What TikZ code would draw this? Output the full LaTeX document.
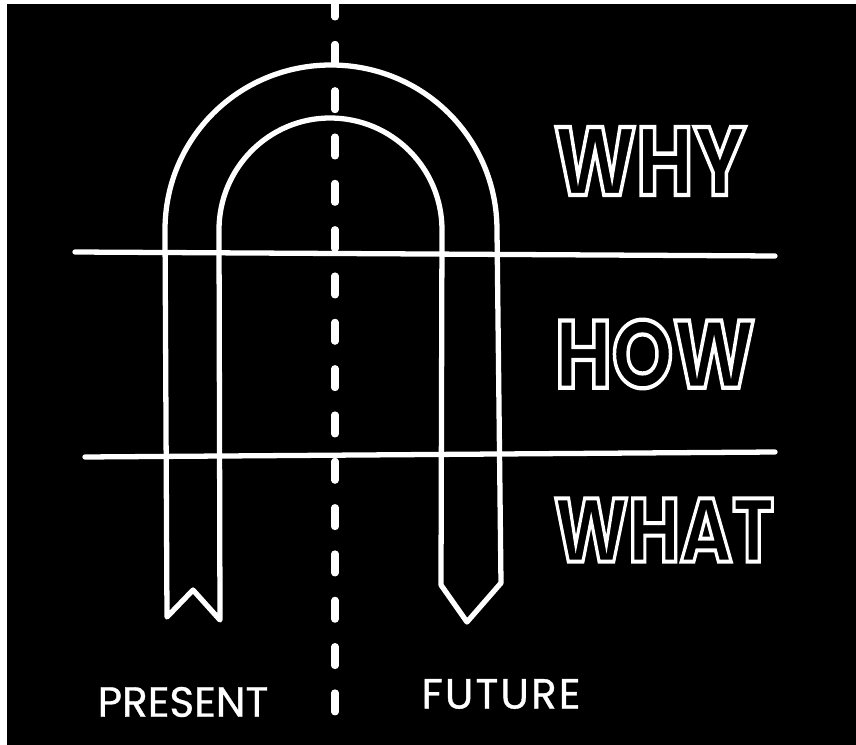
\documentclass[tikz,border=0pt]{standalone}
\usepackage{fontspec}
\setmainfont{Poppins}
\newfontfamily\tagfont[FakeBold=0.8]{Poppins}
% hollow letters: stroke the glyph outlines only
\newcommand\hollow[1]{\special{pdf:literal direct 1 Tr 1.2 w}#1\special{pdf:literal direct 0 Tr 1 w}}
\begin{document}
\begin{tikzpicture}[x=0.01cm, y=-0.01cm,
  chalk/.style={draw=white, line width=1.5pt, line cap=round, line join=round},
  word/.style={text=white, font=\fontsize{27}{27}\selectfont\bfseries, inner sep=0pt},
  tag/.style={text=white, font=\tagfont\fontsize{12}{12}\selectfont, inner sep=0pt}]
\useasboundingbox (0,0) rectangle (856,745);
\fill[white] (0,0) rectangle (856,745);
\fill[black] (7,4) rectangle (856,745);
% time axis
\draw[chalk, line width=2pt, dash pattern=on 0.19cm off 0.273cm] (335,-2) -- (335,712);
% the U
\draw[chalk] (165,230) -- (167,617) -- (193,590) -- (220,620) -- (219,230)
  .. controls (219,168) and (269,118) .. (330,118)
  .. controls (392,118) and (442,168) .. (442,230)
  -- (441,585) -- (467,622) -- (501,583) -- (497,230)
  .. controls (497,138) and (423,65) .. (331,65)
  .. controls (239,65) and (165,138) .. cycle;
% levels
\draw[chalk] (75,252) -- (775,256);
\draw[chalk] (85,457) -- (775,452);
\node[word] (why) at (650,161) {\resizebox{1.92cm}{0.68cm}{\hollow{WHY}}};
\node[word] (how) at (655,354) {\resizebox{2.0cm}{0.68cm}{\hollow{HOW}}};
\node[word] (what) at (664,530) {\resizebox{2.2cm}{0.63cm}{\hollow{WHAT}}};
\node[tag] (present) at (183,702) {PRESENT};
\node[tag] (future) at (501,694) {\addfontfeatures{LetterSpace=5}FUTURE};
\end{tikzpicture}
\end{document}
